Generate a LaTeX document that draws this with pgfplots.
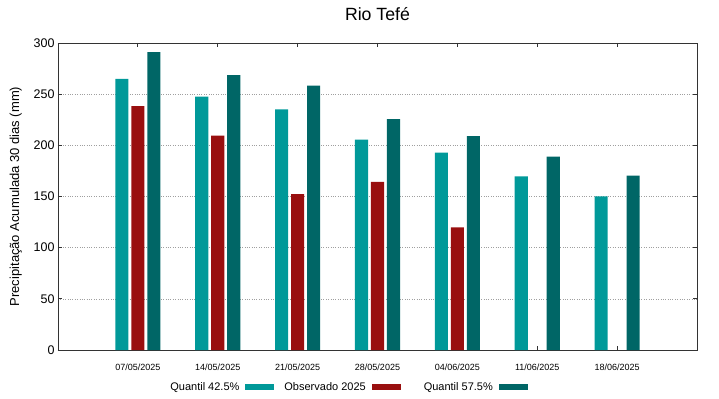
\documentclass[border=0pt]{standalone}
\usepackage{fontspec}
\setmainfont{Liberation Sans}
\usepackage{pgfplots}
\pgfplotsset{compat=1.18}
\definecolor{cA}{HTML}{009999}
\definecolor{cB}{HTML}{990F0F}
\definecolor{cC}{HTML}{006666}
\begin{document}
\begin{tikzpicture}[x=1bp,y=1bp]
\begin{axis}[
  scale only axis, width=639bp, height=307bp,
  xmin=-1, xmax=7, ymin=0, ymax=300,
  xtick={0,1,2,3,4,5,6},
  xticklabels={07/05/2025,14/05/2025,21/05/2025,28/05/2025,04/06/2025,11/06/2025,18/06/2025},
  ytick={0,50,100,150,200,250,300},
  /pgf/number format/assume math mode=true,
  xticklabel style={font=\fontsize{9bp}{10bp}\selectfont, yshift=-10bp},
  yticklabel style={font=\fontsize{12.5bp}{14bp}\selectfont},
  ylabel={Precipitação Acumulada 30 dias (mm)},
  ylabel style={font=\fontsize{13bp}{15bp}\selectfont, at={(axis description cs:-0.066,0.5)}, anchor=center},
  title={Rio Tefé},
  title style={font=\fontsize{17.7bp}{19bp}\selectfont, inner sep=0pt, at={(axis description cs:0.5,1.075)}, anchor=center},
  ymajorgrids, grid style={gray!75, dotted, line width=0.6pt},
  axis line style={black!80, line width=0.8pt},
  major tick length=4bp, tick style={black!80, line width=0.8pt},
  tick align=inside, tick pos=both,
  legend columns=3,
  legend plot pos=right,
  legend style={draw=none, at={(axis description cs:0.454,-0.12)}, anchor=center,
    font=\fontsize{11bp}{13bp}\selectfont,
    /tikz/every even column/.append style={column sep=8bp}},
  legend image code/.code={\path (0bp,0bp); \fill[#1] (4bp,-3bp) rectangle (33bp,3bp);},
]
\addplot[ybar, bar width=0.165, bar shift=-0.2, fill=cA, draw=none] coordinates {
(0,265) (1,247.6) (2,235.2) (3,205.5) (4,192.8) (5,169.7) (6,150.2)};
\addlegendentry{Quantil 42.5\%}
\addplot[ybar, bar width=0.165, bar shift=0, fill=cB, draw=none] coordinates {
(0,238.4) (1,209.5) (2,152.4) (3,164.2) (4,119.9)};
\addlegendentry{Observado 2025}
\addplot[ybar, bar width=0.165, bar shift=0.2, fill=cC, draw=none] coordinates {
(0,291.2) (1,268.7) (2,258.3) (3,225.7) (4,209.1) (5,188.9) (6,170.3)};
\addlegendentry{\hspace{13bp}Quantil 57.5\%}
\end{axis}
\path ([shift={(-58bp,-49bp)}]current axis.south west) rectangle ([shift={(22bp,43bp)}]current axis.north east);
\end{tikzpicture}
\end{document}
